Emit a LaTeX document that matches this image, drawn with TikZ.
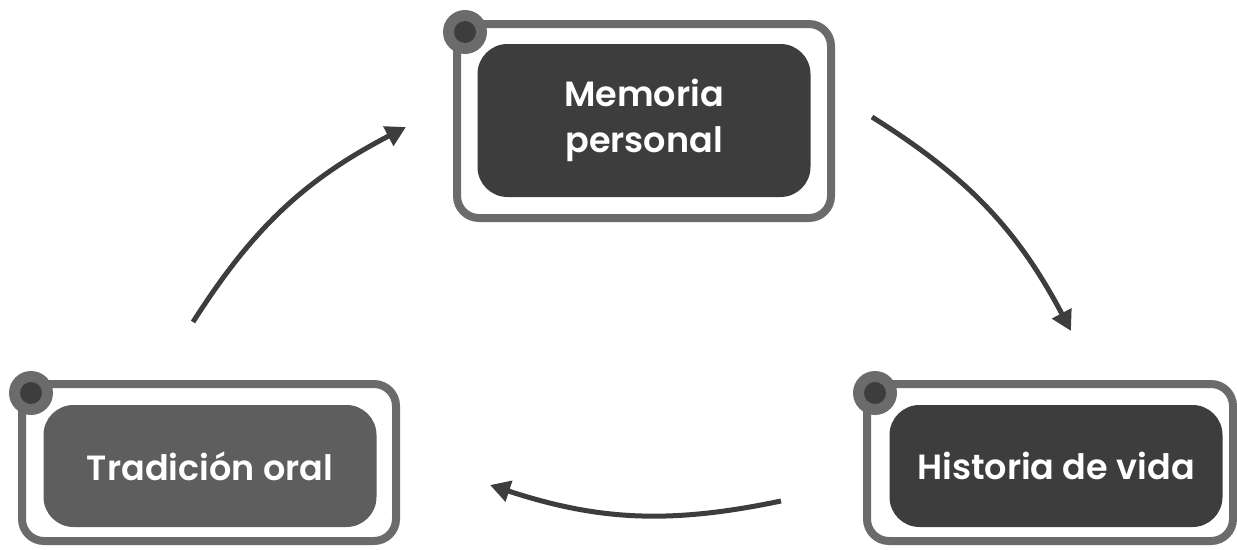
\documentclass[tikz,border=0pt]{standalone}
\usepackage{fontspec}
\setmainfont{Poppins}[BoldFont={Poppins SemiBold}]
\usetikzlibrary{arrows.meta,calc}
\definecolor{frameC}{HTML}{6B6B6B}
\definecolor{darkC}{HTML}{3D3D3D}
\definecolor{midC}{HTML}{5E5E5E}
\tikzset{
  frame/.style={draw=frameC, line width=8pt, rounded corners=22pt},
  inner/.style={rounded corners=30pt, text=white, align=center, inner sep=0pt,
    minimum width=333pt, font=\fontsize{35}{46}\selectfont\bfseries},
  dotout/.style={fill=frameC, circle, minimum size=44pt, inner sep=0pt},
  dotin/.style={fill=darkC, circle, minimum size=22pt, inner sep=0pt},
  flow/.style={draw=darkC, line width=5pt, bend left=15,
    -{Triangle[length=20pt,width=21pt]}}
}
\begin{document}
\begin{tikzpicture}[x=1pt,y=-1pt]
\useasboundingbox (0,0) rectangle (1237,549);
% top box
\draw[frame] (457,24) rectangle (831,218);
\node[inner, fill=darkC, minimum height=153pt] (mem) at (644,120.5) {\rule{0pt}{8pt}Memoria\\personal};
\node[dotout] (memdo) at (465,32) {};
\node[dotin] (memdi) at (465,32) {};
% left box
\draw[frame] (22,384) rectangle (396,541);
\node[inner, fill=midC, minimum height=122pt] (trad) at (210,466) {Tradición oral};
\node[dotout] (tradvo) at (31,393) {};
\node[dotin] (tradvi) at (31,393) {};
% right box
\draw[frame] (867,384) rectangle (1233,541);
\node[inner, fill=darkC, minimum height=122pt] (hist) at (1056,466) {Historia de vida};
\node[dotout] (histo) at (875,393) {};
\node[dotin] (histi) at (875,393) {};
% connector ends
\coordinate (a1s) at (193,322);
\coordinate (a1e) at (406,127);
\coordinate (a2s) at (872,117);
\coordinate (a2e) at (1071,331);
\coordinate (a3s) at (781,501);
\coordinate (a3e) at (490,485);
\draw[flow] (a1s) to (a1e);
\draw[flow] (a2s) to (a2e);
\draw[flow] (a3s) to (a3e);
\end{tikzpicture}
\end{document}
